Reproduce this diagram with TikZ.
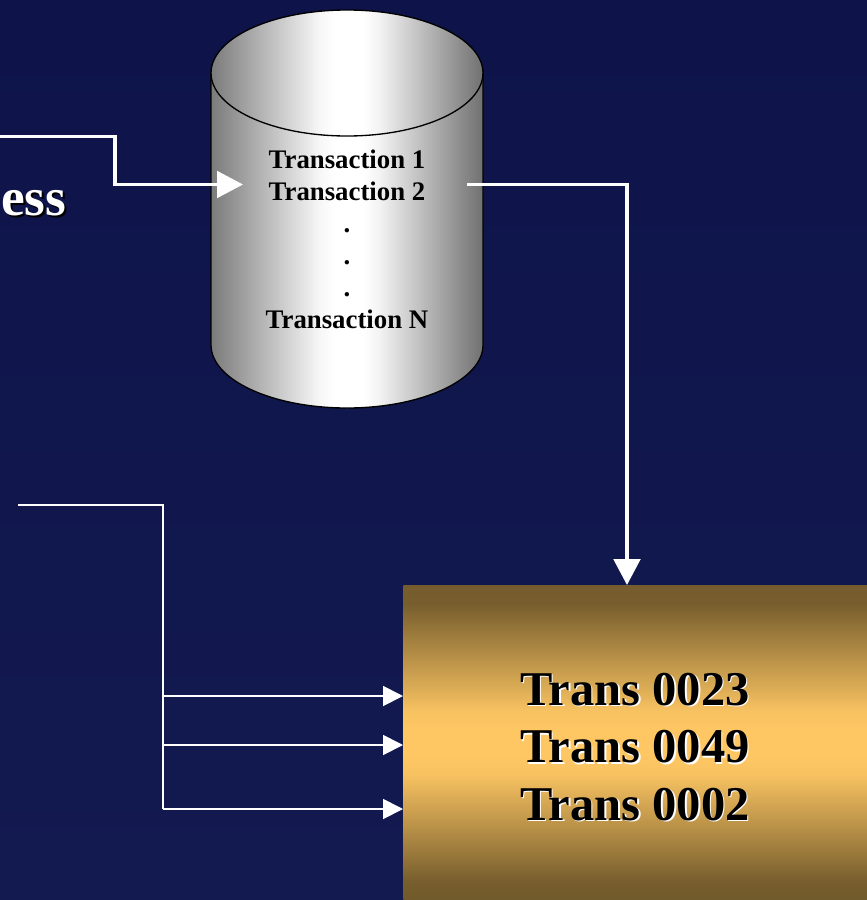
\documentclass[tikz,border=0pt]{standalone}
\usepackage{fontspec}
\setmainfont{Liberation Serif}
\usetikzlibrary{arrows.meta}
\definecolor{navy}{RGB}{14,20,74}
\definecolor{navylow}{RGB}{19,26,80}
\pgfdeclareverticalshading{goldband}{100bp}{
  rgb(0bp)=(0.44,0.35,0.17);rgb(25bp)=(0.44,0.35,0.17);rgb(28bp)=(0.47,0.37,0.18);
  rgb(45bp)=(0.97,0.76,0.38);rgb(48bp)=(1,0.78,0.39);rgb(52bp)=(1,0.78,0.39);rgb(55bp)=(0.97,0.76,0.38);
  rgb(72bp)=(0.47,0.37,0.18);rgb(75bp)=(0.46,0.36,0.18);rgb(100bp)=(0.46,0.36,0.18)}
\pgfdeclarehorizontalshading{metal}{100bp}{
  gray(0bp)=(0.48);gray(25bp)=(0.48);gray(45bp)=(0.97);gray(48bp)=(1);gray(53bp)=(1);gray(56bp)=(0.95);gray(75bp)=(0.44);gray(100bp)=(0.44)}
% text with a copy of itself set behind it, moved right and down
\newcommand{\shadowed}[3]{\leavevmode\rlap{\hspace{#1}\raisebox{-#1}{\textcolor{#2}{#3}}}#3}
\tikzset{
  bigline/.style={white,line width=2.4pt,-{Triangle[length=19.5pt,width=20pt]}},
  thinline/.style={white,line width=1.4pt,-{Triangle[length=15pt,width=15pt]}},
  droparrow/.style={white,line width=2.4pt,-{Triangle[length=19.5pt,width=20pt]}},
  dbtext/.style={font=\fontsize{20.1}{24}\selectfont\bfseries,align=center,text=black,inner sep=0pt},
  boxtext/.style={font=\fontsize{36.4}{43}\selectfont\bfseries,align=center,text=black,inner sep=0pt},
}
\begin{document}
\begin{tikzpicture}[x=0.75pt,y=-0.75pt]
\useasboundingbox (0,0) rectangle (867,900);
\shade[top color=navy,bottom color=navylow] (0,0) rectangle (867,900);

% cylinder
\shade[shading=metal]
  (211,73)--(211,345) arc[start angle=180,end angle=360,x radius=136,y radius=-63]--(483,73) arc[start angle=0,end angle=180,x radius=136,y radius=63]--cycle;
\shade[shading=metal]
  (347,73) ellipse[x radius=136,y radius=63];
\draw[black,line width=1pt] (211,73)--(211,345) arc[start angle=180,end angle=360,x radius=136,y radius=-63]--(483,73);
\draw[black,line width=1pt] (347,73) ellipse[x radius=136,y radius=63];
\node[dbtext] (db) at (347,239) {Transaction 1\\Transaction 2\\.\\.\\.\\Transaction N};

% gold box
\node[rectangle,minimum width=348pt,minimum height=236.25pt,inner sep=0pt,anchor=north west,
  shade,shading=goldband] (box) at (403,585) {};
\node[boxtext] (trans) at (635,747.5) {\shadowed{1.1pt}{white}{Trans 0023}\\\shadowed{1.1pt}{white}{Trans 0049}\\\shadowed{1.1pt}{white}{Trans 0002}};

\node[anchor=base east,inner sep=0pt,text=white,font=\fontsize{40}{45}\selectfont\bfseries] (process) at (66.5,215) {\shadowed{1.5pt}{black}{ess}};

\coordinate (topstart) at (0,136.5);
\coordinate (topbend) at (115,136.5);
\coordinate (dbin) at (243,184.5);
\coordinate (dbout) at (467,184.5);
\coordinate (dropbend) at (627,184.5);
\coordinate (droptip) at (627,585);
\coordinate (lowstart) at (18,505);
\coordinate (lowbend) at (163,505);

\draw[bigline] (topstart)--(topbend)--(topbend|-dbin)--(dbin);
\draw[droparrow] (dbout)--(dropbend)--(droptip);

\draw[white,line width=1.4pt] (lowstart)--(lowbend)--(163,809);
\foreach \y in {696,745,809}{
\draw[thinline] (163,\y)--(box.west|-0,\y);
}
\end{tikzpicture}
\end{document}
